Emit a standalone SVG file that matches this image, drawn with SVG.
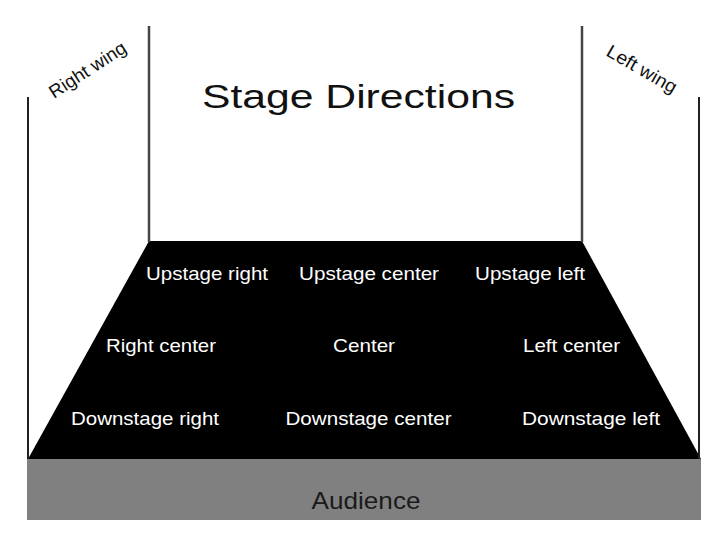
<svg xmlns="http://www.w3.org/2000/svg" width="728" height="546" viewBox="0 0 728 546">
  <style>
    .lbl { font-family: "Liberation Sans", Arial, sans-serif; font-size: 19px; fill: #ffffff; }
    .wing { font-family: "Liberation Sans", Arial, sans-serif; font-size: 18.5px; fill: #111111; }
    .title { font-family: "Liberation Sans", Arial, sans-serif; font-size: 34px; fill: #111111; }
    .aud { font-family: "Liberation Sans", Arial, sans-serif; font-size: 24.5px; fill: #1a1a1a; }
    .outer { stroke: #222222; stroke-width: 2; fill: none; }
    .inner { stroke: #444444; stroke-width: 2.5; fill: none; }
  </style>
  <rect x="0" y="0" width="728" height="546" fill="#ffffff"/>
  <g id="audience">
    <rect x="27" y="459" width="674" height="61" fill="#808080"/>
    <text class="aud" x="311.5" y="509" textLength="109" lengthAdjust="spacingAndGlyphs">Audience</text>
  </g>
  <g id="stage">
    <polygon points="149,241 582,241 701,459 28,459" fill="#000000"/>
  </g>
  <g id="walls">
    <line class="outer" x1="28" y1="97" x2="28" y2="459"/>
    <line class="inner" x1="149" y1="26" x2="149" y2="242"/>
    <line class="inner" x1="582" y1="26" x2="582" y2="242"/>
    <line class="outer" x1="699" y1="97" x2="699" y2="459"/>
  </g>
  <g id="title">
    <text class="title" x="202" y="108" textLength="313" lengthAdjust="spacingAndGlyphs">Stage Directions</text>
  </g>
  <g id="right-wing">
    <text class="wing" transform="translate(54,99) rotate(-33)" x="0" y="0" textLength="88" lengthAdjust="spacingAndGlyphs">Right wing</text>
  </g>
  <g id="left-wing">
    <text class="wing" transform="translate(605,55) rotate(30)" x="0" y="0" textLength="78" lengthAdjust="spacingAndGlyphs">Left wing</text>
  </g>
  <g id="upstage-right"><text class="lbl" x="146" y="280" textLength="122" lengthAdjust="spacingAndGlyphs">Upstage right</text></g>
  <g id="upstage-center"><text class="lbl" x="299" y="280" textLength="140" lengthAdjust="spacingAndGlyphs">Upstage center</text></g>
  <g id="upstage-left"><text class="lbl" x="475" y="280" textLength="110" lengthAdjust="spacingAndGlyphs">Upstage left</text></g>
  <g id="right-center"><text class="lbl" x="106" y="352" textLength="110" lengthAdjust="spacingAndGlyphs">Right center</text></g>
  <g id="center"><text class="lbl" x="333" y="352" textLength="62" lengthAdjust="spacingAndGlyphs">Center</text></g>
  <g id="left-center"><text class="lbl" x="523" y="352" textLength="97" lengthAdjust="spacingAndGlyphs">Left center</text></g>
  <g id="downstage-right"><text class="lbl" x="71" y="425" textLength="148" lengthAdjust="spacingAndGlyphs">Downstage right</text></g>
  <g id="downstage-center"><text class="lbl" x="285.5" y="425" textLength="166" lengthAdjust="spacingAndGlyphs">Downstage center</text></g>
  <g id="downstage-left"><text class="lbl" x="522" y="425" textLength="138" lengthAdjust="spacingAndGlyphs">Downstage left</text></g>
</svg>
